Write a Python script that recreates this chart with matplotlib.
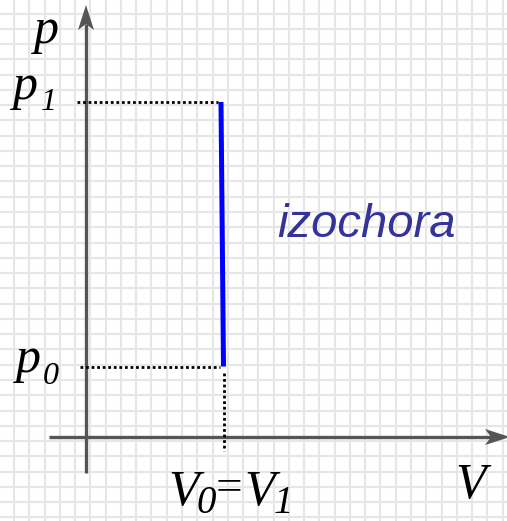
import numpy as np
import matplotlib
matplotlib.use("Agg")
import matplotlib.pyplot as plt
from matplotlib.patches import Polygon

# coordinates are in pixels measured from the axis origin (V right, p up)
V_iso = [135.0, 137.5]          # volume at top / bottom of the isochore
p_iso = [335.0, 70.5]           # p1 (top), p0 (bottom)
p1, p0 = p_iso
V0 = V_iso[1]

xlim = (-86, 421)
ylim = (-84, 437)

fig = plt.figure(figsize=(5.07, 5.21), dpi=100)
ax = fig.add_axes([0, 0, 1, 1])
ax.set_xlim(*xlim)
ax.set_ylim(*ylim)

# background grid (~15.27 px cells)
cell = 15.27
ax.set_xticks(np.arange(14 - 86, xlim[1], cell))
ax.set_yticks(437 - np.arange(13.5, 521, cell))
ax.grid(True, color="#e6e6e6", lw=1.5)
ax.set_axisbelow(True)
ax.tick_params(length=0, labelbottom=False, labelleft=False)
for s in ax.spines.values():
    s.set_visible(False)

axis_col = "#555555"


def arrow_head(tip, d, length=25, half=8, notch=6):
    tx, ty = tip
    dx, dy = d
    nx, ny = -dy, dx
    pts = [(tx, ty),
           (tx - dx * length + nx * half, ty - dy * length + ny * half),
           (tx - dx * (length - notch), ty - dy * (length - notch)),
           (tx - dx * length - nx * half, ty - dy * length - ny * half)]
    ax.add_patch(Polygon(pts, closed=True, color=axis_col, lw=0, zorder=4))


# axes with arrows
ax.plot([0, 0], [-36, 432 - 19], color=axis_col, lw=2.4, solid_capstyle="butt", zorder=3)
arrow_head((0, 432), (0, 1))
ax.plot([-37, 424 - 19], [0, 0], color=axis_col, lw=2.4, solid_capstyle="butt", zorder=3)
arrow_head((424, 0), (1, 0))

# dotted guides
dot = dict(color="black", lw=2.0, ls=(0, (1, 1)), zorder=3)
ax.plot([-9, V_iso[0] - 3], [p1, p1], **dot)
ax.plot([-6, V_iso[1] - 4], [p0, p0], **dot)
ax.plot([V0, V0], [p0 - 6, -14], **dot)

# isochore
ax.plot(V_iso, p_iso, color="#0000ff", lw=3.6, solid_capstyle="butt", zorder=5)

serif = dict(family="Liberation Serif", style="italic", color="black")


def lbl(px, py, s, size=36, va="baseline"):
    ax.text(px - 86, 437 - py, s, fontsize=size, ha="left", va=va, **serif)


lbl(34, 43, "p")
lbl(13, 99, "p")
lbl(41, 110, "1", size=23)
lbl(16, 372, "p")
lbl(43, 384, "0", size=23)
lbl(168, 505, "V")
lbl(196, 513, "0", size=28)
ax.text(229 - 86, 437 - 489, "=", fontsize=34, ha="center", va="center",
        family="Liberation Serif", color="black")
lbl(244, 505, "V")
lbl(274, 513, "1", size=28)
lbl(455, 498, "V")

ax.text(277 - 86, 437 - 237, "izochora", fontsize=34, ha="left", va="baseline",
        family="Liberation Sans", style="italic", color="#33339a")

fig.savefig("out.png", dpi=100)
